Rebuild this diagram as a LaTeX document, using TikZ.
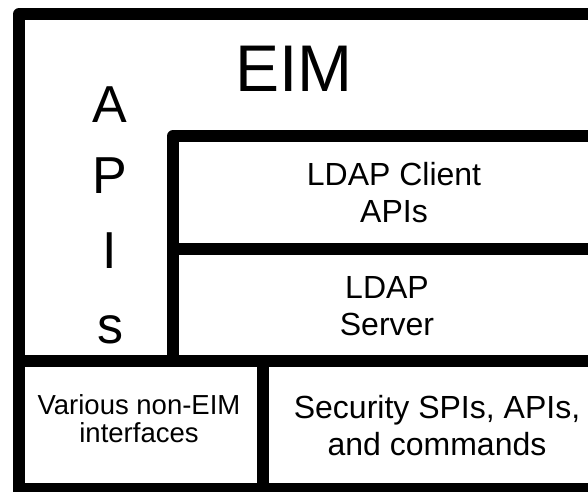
\documentclass[tikz,border=0pt]{standalone}
\usepackage{fontspec}
\setmainfont{Liberation Sans}
\begin{document}
\begin{tikzpicture}[x=1pt,y=-1pt,
  wall/.style={line width=12pt, line join=round},
  lbl/.style={inner sep=0pt, align=center, anchor=base},
  big/.style={font=\fontsize{66}{70}\selectfont},
  vert/.style={font=\fontsize{52}{56}\selectfont},
  mid/.style={font=\fontsize{32}{36.5}\selectfont},
  small/.style={font=\fontsize{27.5}{28}\selectfont}]
\useasboundingbox (0,0) rectangle (588,491);
\clip (0,0) rectangle (588,491);
\fill[white] (0,0) rectangle (588,491);

% outer frame and layer walls
\draw[wall] (19,500) -- (19,14) -- (600,14);
\draw[wall] (173,361) -- (173,136) -- (600,136);
\draw[wall] (173,249) -- (600,249);
\draw[wall] (19,361) -- (600,361);
\draw[wall] (263,361) -- (263,500);
\draw[wall] (19,489) -- (600,489);

% labels (multi-line labels are placed by the baseline of their last line)
\node[lbl,big] (eim) at (294,91) {EIM};
\node[lbl,vert] (apiA) at (110,122) {A};
\node[lbl,vert] (apiP) at (110,193) {P};
\node[lbl,vert] (apiI) at (110,268) {I};
\node[lbl,vert] (apiS) at (110,343) {s};
\node[lbl,mid] (client) at (394,222) {LDAP Client\\APIs};
\node[lbl,mid] (server) at (387,335) {LDAP\\Server};
\node[lbl,small] (various) at (139,442) {Various non-EIM\\interfaces};
\node[lbl,mid] (security) at (437,455) {Security SPIs, APIs,\\and commands};
\end{tikzpicture}
\end{document}
